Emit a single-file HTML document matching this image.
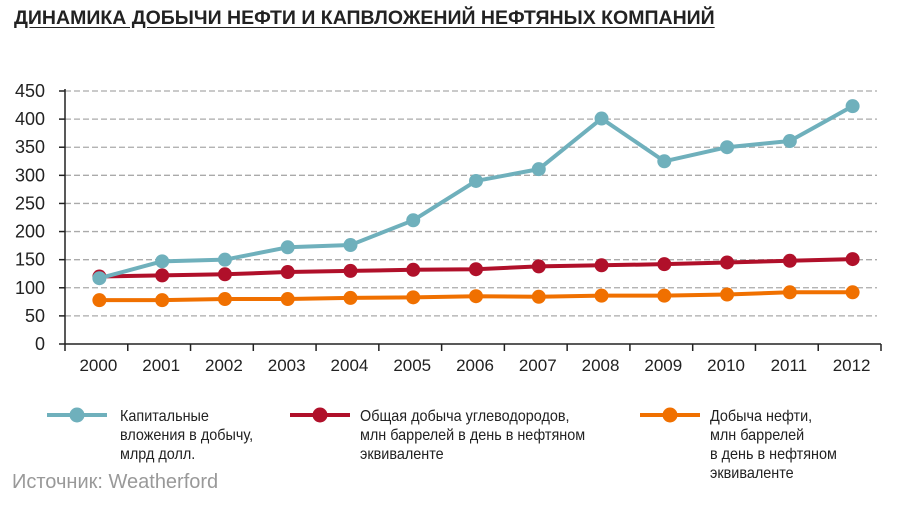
<!DOCTYPE html>
<html><head><meta charset="utf-8"><style>
body{margin:0;width:920px;height:506px;background:#fff;overflow:hidden;font-family:"Liberation Sans",sans-serif;}
.t{position:absolute;left:14px;top:7px;font-size:19.5px;font-weight:bold;color:#222;text-decoration:underline;text-underline-offset:3px;letter-spacing:0px}
.leg{position:absolute;font-size:16px;line-height:19px;color:#222;transform:scaleX(0.9);transform-origin:left top;white-space:nowrap}
.src{position:absolute;left:12px;top:471px;font-size:20px;color:#999;transform:scaleX(1.0);transform-origin:left top}
</style></head><body>
<div class="t">ДИНАМИКА ДОБЫЧИ НЕФТИ И КАПВЛОЖЕНИЙ НЕФТЯНЫХ КОМПАНИЙ</div>
<svg id="c" width="920" height="506" style="position:absolute;left:0;top:0"></svg>
<div class="leg" style="left:120px;top:407px">Капитальные<br>вложения в добычу,<br>млрд долл.</div>
<div class="leg" style="left:360px;top:407px">Общая добыча углеводородов,<br>млн баррелей в день в нефтяном<br>эквиваленте</div>
<div class="leg" style="left:710px;top:407px">Добыча нефти,<br>млн баррелей<br>в день в нефтяном<br>эквиваленте</div>
<div class="src">Источник: Weatherford</div>
<script>
const years=["2000","2001","2002","2003","2004","2005","2006","2007","2008","2009","2010","2011","2012"];
const capex=[117,147,150,172,176,220,290,311,401,325,350,361,423];
const total=[120,122,124,128,130,132,133,138,140,142,145,148,151];
const oil=[78,78,80,80,82,83,85,84,86,86,88,92,92];
const yTicks=[0,50,100,150,200,250,300,350,400,450];
const NS="http://www.w3.org/2000/svg";
const svg=document.getElementById('c');
const x0=65,x1=881,y0=344,y450=91;
const step=(x1-x0)/years.length;
const X=i=>x0+step*(i+0.5)+3;
const Y=v=>y0-(v/450)*(y0-y450);
function el(t,a){const e=document.createElementNS(NS,t);for(const k in a)e.setAttribute(k,a[k]);svg.appendChild(e);return e;}
yTicks.forEach(v=>{
  if(v>0){const g=el('line',{x1:x0,x2:x1-4,y1:Y(v),y2:Y(v),stroke:'#aaa','stroke-width':1.3,'stroke-dasharray':'6,3'});
  
  }
  const tk=el('line',{x1:x0-6,x2:x0,y1:Y(v),y2:Y(v),stroke:'#222','stroke-width':1.5});
  
  
  const t=el('text',{x:45,y:Y(v)+6,'text-anchor':'end','font-size':18,fill:'#222','font-family':'Liberation Sans, sans-serif'});
  t.textContent=v;
  
  
});
const ya=el('line',{x1:x0,x2:x0,y1:Y(450)-2,y2:y0,stroke:'#222','stroke-width':1.5});


const xa=el('line',{x1:x0,x2:x1,y1:y0,y2:y0,stroke:'#222','stroke-width':1.5});


for(let i=0;i<=years.length;i++){const tk=el('line',{x1:x0+step*i,x2:x0+step*i,y1:y0,y2:y0+7,stroke:'#222','stroke-width':1.5});

}
years.forEach((y,i)=>{const t=el('text',{x:X(i)-1,y:371,'text-anchor':'middle','font-size':17,fill:'#222','font-family':'Liberation Sans, sans-serif'});t.textContent=y;

});
function series(d,col,name){
  const p=el('polyline',{points:d.map((v,i)=>X(i)+','+Y(v)).join(' '),fill:'none',stroke:col,'stroke-width':4,'stroke-linejoin':'round'});
  
  
  d.forEach((v,i)=>{const c=el('circle',{cx:X(i),cy:Y(v),r:7,fill:col});
  
  });
}
series(total,'#b0102a','total-series');
series(oil,'#f07000','oil-series');
series(capex,'#6fb0bc','capex-series');
function legend(x,col,name){
  const l=el('line',{x1:x,x2:x+60,y1:415,y2:415,stroke:col,'stroke-width':4});
  
  
  const c=el('circle',{cx:x+30,cy:415,r:7.5,fill:col});
  
  
}
legend(47,'#6fb0bc','legend-capex');
legend(290,'#b0102a','legend-total');
legend(640,'#f07000','legend-oil');
</script>
</body></html>
